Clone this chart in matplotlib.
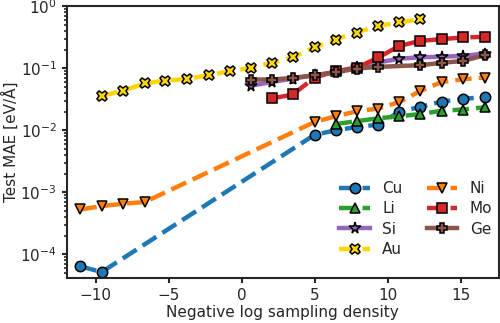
import matplotlib
matplotlib.use("Agg")
import matplotlib.pyplot as plt

plt.rcParams.update({
    "font.family": ["DejaVu Sans"],
    "font.size": 11,
    "axes.edgecolor": "#262626",
    "axes.labelcolor": "#262626",
    "xtick.color": "#262626",
    "ytick.color": "#262626",
    "text.color": "#262626",
    "axes.linewidth": 1.5,
    "xtick.major.width": 1.5,
    "ytick.major.width": 1.5,
    "ytick.minor.width": 1.2,
})

# Negative log sampling density per element
x_cu = [-11.05, -9.59, 4.98, 6.42, 7.86, 9.34, 10.79, 12.22, 13.68, 15.15, 16.62]
y_cu = [6.4e-5, 5.2e-5, 8.45e-3, 0.0100, 0.0113, 0.0123, 0.0200, 0.0238, 0.0290, 0.0320, 0.0344]

x_li = [6.42, 7.86, 9.34, 10.79, 12.22, 13.68, 15.15, 16.62]
y_li = [0.0126, 0.0140, 0.0156, 0.0168, 0.0183, 0.0206, 0.0216, 0.0235]

x_si = [0.60, 2.05, 3.49, 4.98, 6.42, 7.86, 9.34, 10.79, 12.22, 13.68, 15.15, 16.62]
y_si = [0.052, 0.060, 0.068, 0.077, 0.087, 0.104, 0.124, 0.142, 0.150, 0.153, 0.158, 0.172]

x_au = [-9.59, -8.10, -6.64, -5.23, -3.77, -2.28, -0.84, 0.60,
        2.05, 3.49, 4.98, 6.42, 7.86, 9.34, 10.79, 12.22]
y_au = [0.0357, 0.0437, 0.0567, 0.0633, 0.0670, 0.0770, 0.0894, 0.101,
        0.122, 0.149, 0.218, 0.290, 0.376, 0.481, 0.546, 0.617]

x_ni = [-11.05, -9.59, -8.10, -6.64, 4.98, 6.42, 7.86, 9.34, 10.79, 12.22, 13.68, 15.15, 16.62]
y_ni = [5.3e-4, 6.0e-4, 6.57e-4, 6.98e-4, 0.0136, 0.0168, 0.0202, 0.0224, 0.0286,
        0.0430, 0.0600, 0.0665, 0.0708]

x_mo = [2.05, 3.49, 4.98, 6.42, 7.86, 9.34, 10.79, 12.22, 13.68, 15.15, 16.62]
y_mo = [0.0325, 0.0377, 0.0708, 0.0894, 0.101, 0.149, 0.229, 0.276, 0.294, 0.313, 0.320]

x_ge = [0.60, 2.05, 3.49, 4.98, 6.42, 7.86, 9.34, 12.22, 13.68, 15.15, 16.62]
y_ge = [0.0657, 0.0657, 0.0698, 0.0770, 0.0853, 0.0989, 0.105, 0.112, 0.122, 0.131, 0.162]

series = [
    ("Cu", x_cu, y_cu, "tab:blue", "o", "--", 7.5),
    ("Li", x_li, y_li, "tab:green", "^", "--", 7.5),
    ("Si", x_si, y_si, "tab:purple", "*", "-", 8.5),
    ("Au", x_au, y_au, "gold", "X", "--", 7.5),
    ("Ni", x_ni, y_ni, "tab:orange", "v", "--", 7.5),
    ("Mo", x_mo, y_mo, "tab:red", "s", "--", 7.5),
    ("Ge", x_ge, y_ge, "tab:brown", "P", "-", 7.5),
]

fig = plt.figure(figsize=(5.0, 3.23), dpi=100)
ax = fig.add_axes([0.133, 0.140, 0.865, 0.841])

for name, xs, ys, col, mk, ls, ms in series:
    ax.plot(xs, ys, linestyle=ls, color=col, lw=3.2, marker=mk, ms=ms,
            mfc=col, mec="black", mew=1.1, label=name)

ax.set_yscale("log")
ax.set_xlim(-12.0, 17.6)
ax.set_ylim(4.2e-5, 1.0)
ax.set_xticks([-10, -5, 0, 5, 10, 15])
ax.set_xlabel("Negative log sampling density", labelpad=2)
ax.set_ylabel("Test MAE [eV/Å]", labelpad=1)

ax.legend(ncol=2, loc="lower right", bbox_to_anchor=(1.016, 0.026),
          frameon=False, fontsize=11, handlelength=2.0, columnspacing=1.6,
          labelspacing=0.35, borderaxespad=0.5)

fig.savefig("out.png", dpi=100)
